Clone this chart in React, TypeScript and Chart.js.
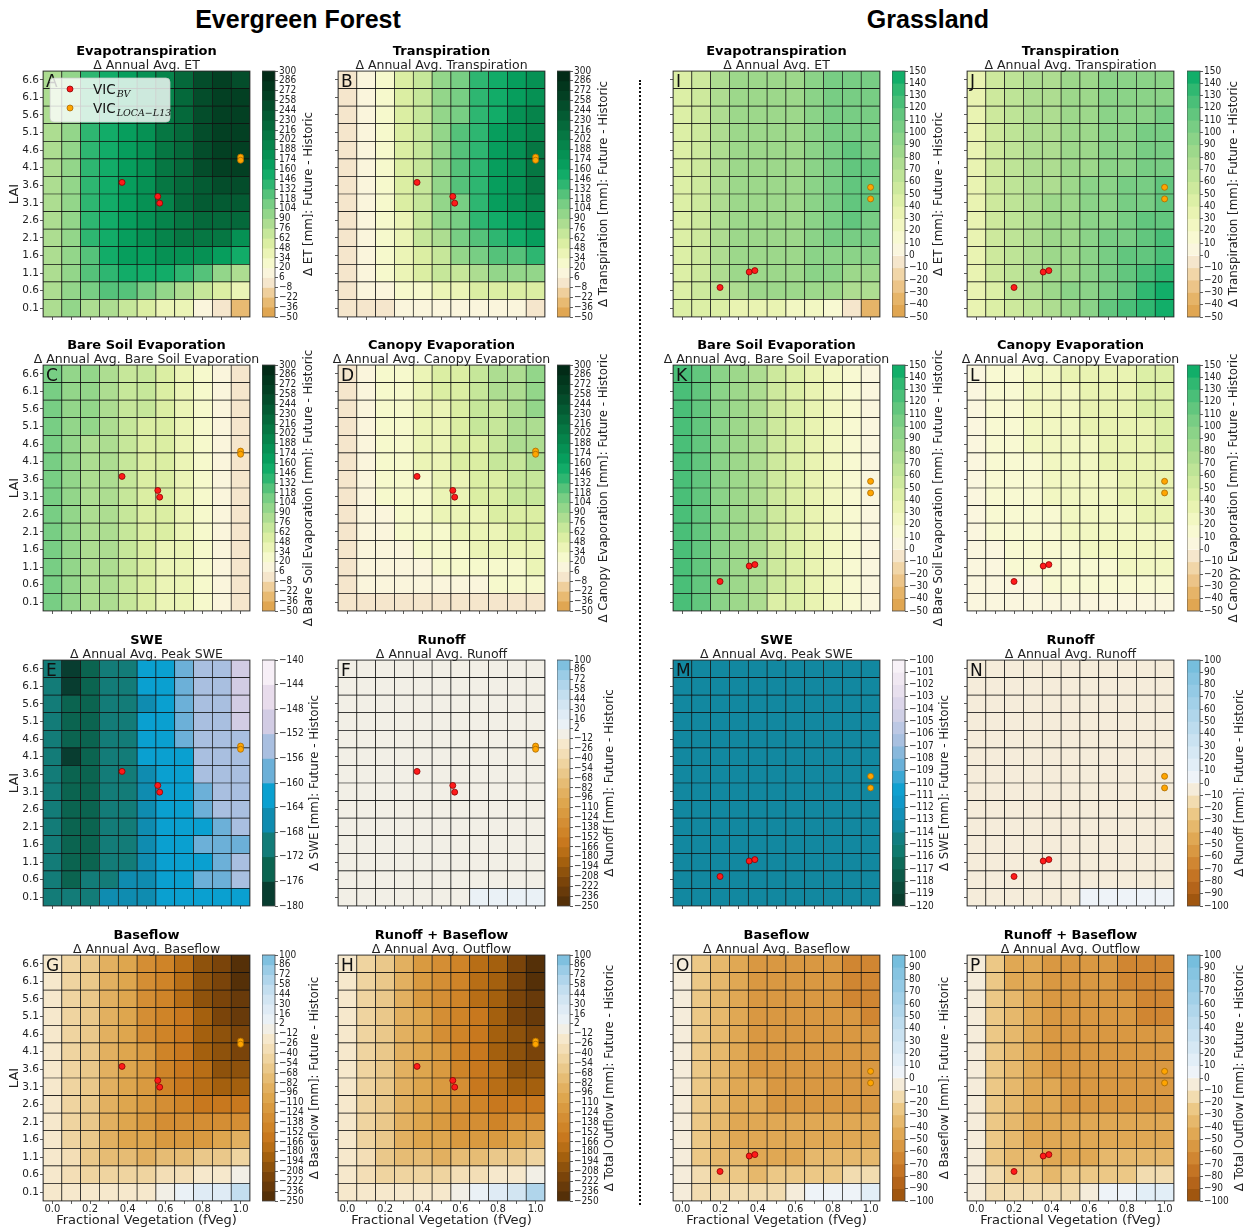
import React, { useEffect, useRef } from 'react';
import { Chart, registerables } from 'chart.js';

Chart.register(...registerables);
Chart.defaults.font.family = "'DejaVu Sans', sans-serif";
Chart.defaults.color = '#222';

// ---------- axes ----------
const FVEG = [0.0, 0.1, 0.2, 0.3, 0.4, 0.5, 0.6, 0.7, 0.8, 0.9, 1.0];
const LAI = [6.6, 6.1, 5.6, 5.1, 4.6, 4.1, 3.6, 3.1, 2.6, 2.1, 1.6, 1.1, 0.6, 0.1];

// ---------- colorbar tick levels ----------
const EF_GREEN_TICKS = [-50, -36, -22, -8, 6, 20, 34, 48, 62, 76, 90, 104, 118, 132, 146, 160, 174, 188, 202, 216, 230, 244, 258, 272, 286, 300];
const EF_FLOW_TICKS = [-250, -236, -222, -208, -194, -180, -166, -152, -138, -124, -110, -96, -82, -68, -54, -40, -26, -12, 2, 16, 30, 44, 58, 72, 86, 100];
const EF_SWE_TICKS = [-180, -176, -172, -168, -164, -160, -156, -152, -148, -144, -140];
const GR_GREEN_TICKS = [-50, -40, -30, -20, -10, 0, 10, 20, 30, 40, 50, 60, 70, 80, 90, 100, 110, 120, 130, 140, 150];
const GR_FLOW_TICKS = [-100, -90, -80, -70, -60, -50, -40, -30, -20, -10, 0, 10, 20, 30, 40, 50, 60, 70, 80, 90, 100];
const GR_SWE_TICKS = [-120, -119, -118, -117, -116, -115, -114, -113, -112, -111, -110, -109, -108, -107, -106, -105, -104, -103, -102, -101, -100];

// ---------- colorbar bin colours ----------
const EF_GREEN_COLORS = ['#e0a652', '#e8ba72', '#efcf9c', '#f5e6cc', '#faf5dc', '#f6f9cc', '#ebf4b6', '#dbeea3', '#c6e79a', '#addd91', '#93d68a', '#78ce84', '#55c27a', '#2eb671', '#12ac68', '#079e5d', '#069154', '#06844b', '#067743', '#05693b', '#045b33', '#044d2b', '#034023', '#02361d', '#022b17'];
const GR_GREEN_COLORS = ['#e0a652', '#e6b468', '#ecc488', '#f1d6a8', '#f5e6cc', '#faf6de', '#f8f9d2', '#f2f7c2', '#e9f3b2', '#dcefa6', '#cde99d', '#bee497', '#aedd91', '#9dd88b', '#8bd388', '#78cd84', '#62c67e', '#4abf78', '#30b871', '#12ae69'];
const EF_FLOW_COLORS = ['#553008', '#683a0a', '#7a440a', '#8e520c', '#a4600e', '#b86e16', '#c8781e', '#cf8428', '#d48e34', '#d99a40', '#dea64e', '#e2b060', '#e6bc74', '#eac88a', '#efd4a0', '#f3deb6', '#f6e8cc', '#f2efe6', '#eaf1f6', '#dfebf5', '#d2e5f2', '#c3deef', '#b0d5eb', '#9bcce6', '#7fc0df'];
const GR_FLOW_COLORS = ['#a0560f', '#b4641a', '#c47424', '#d08632', '#d99842', '#e0a854', '#e6b86c', '#ecc886', '#f2dcb0', '#f5ecda', '#eef3f8', '#e2eef7', '#d6e8f4', '#cae2f1', '#bddcee', '#b0d6eb', '#a2d0e8', '#94cae5', '#86c4e1', '#76bedd'];
const EF_SWE_COLORS = ['#083d30', '#0b6450', '#137c78', '#0f8cb0', '#0aa0d0', '#6cb0d8', '#a9bfe0', '#d2cce4', '#e8dcec', '#f7eff7'];
const GR_SWE_COLORS = ['#0a3d2e', '#0b4a3a', '#0c5a48', '#0e6a58', '#107a6e', '#127e80', '#1288a0', '#1290b8', '#1098c8', '#10a0d0', '#3ca8d4', '#6ab0d8', '#88b8dc', '#a8c0e0', '#bcc8e4', '#d0d0e6', '#dcd6ea', '#e8e0ee', '#f0e8f2', '#f8f2f8'];

// ---------- site points ----------
const EF_BV_FVEG = [0.37, 0.56, 0.57];
const EF_BV_LAI = [3.68, 3.28, 3.09];
const EF_LOCA_FVEG = [1.0, 1.0];
const EF_LOCA_LAI = [4.4, 4.31];
const GR_BV_FVEG = [0.2, 0.355, 0.385];
const GR_BV_LAI = [0.69, 1.13, 1.17];
const GR_LOCA_FVEG = [1.0, 1.0];
const GR_LOCA_LAI = [3.54, 3.21];

// ---------- Evergreen forest grids (rows: LAI 6.6 -> 0.1, cols: fVeg 0.0 -> 1.0) ----------
const efET = [
  [85, 100, 140, 152, 168, 184, 200, 222, 246, 262, 256],
  [85, 100, 140, 152, 168, 184, 200, 224, 250, 266, 262],
  [85, 101, 140, 153, 169, 185, 202, 226, 252, 264, 262],
  [85, 101, 140, 153, 169, 186, 204, 226, 250, 262, 260],
  [84, 101, 140, 153, 170, 186, 204, 226, 248, 260, 258],
  [84, 101, 140, 153, 170, 186, 204, 225, 246, 258, 262],
  [84, 101, 139, 153, 170, 186, 203, 222, 240, 250, 248],
  [84, 100, 138, 152, 168, 185, 200, 218, 234, 242, 240],
  [84, 100, 137, 151, 167, 184, 199, 212, 224, 226, 218],
  [84, 100, 135, 150, 165, 180, 194, 206, 210, 204, 184],
  [84, 100, 128, 150, 165, 172, 180, 182, 178, 168, 150],
  [84, 100, 125, 136, 150, 152, 150, 138, 120, 100, 88],
  [84, 100, 110, 118, 120, 108, 98, 85, 70, 55, 40],
  [84, 92, 88, 78, 68, 58, 45, 35, 15, 0, -30],
];
const efTR = [
  [0, 14, 30, 48, 70, 92, 112, 132, 150, 165, 175],
  [0, 14, 30, 50, 72, 94, 115, 136, 155, 172, 185],
  [0, 14, 30, 50, 72, 95, 117, 138, 158, 176, 192],
  [0, 14, 30, 50, 73, 96, 118, 140, 160, 180, 198],
  [0, 14, 30, 50, 73, 96, 119, 142, 163, 184, 205],
  [0, 14, 30, 50, 73, 96, 119, 142, 164, 186, 208],
  [0, 14, 30, 50, 72, 95, 118, 141, 163, 185, 205],
  [0, 14, 29, 49, 71, 93, 116, 138, 160, 180, 198],
  [0, 13, 28, 47, 68, 90, 111, 132, 152, 170, 185],
  [0, 13, 27, 45, 64, 84, 104, 122, 140, 155, 166],
  [0, 12, 25, 41, 58, 75, 92, 107, 120, 130, 136],
  [0, 11, 22, 35, 48, 62, 74, 84, 92, 97, 100],
  [0, 8, 16, 24, 32, 40, 46, 51, 54, 56, 56],
  [0, 2, 4, 6, 7, 8, 8, 8, 7, 6, 5],
];
const efBS = [
  [106, 98, 90, 82, 72, 62, 52, 42, 30, 14, 0],
  [106, 98, 90, 82, 72, 62, 52, 42, 30, 14, 0],
  [106, 98, 90, 81, 72, 62, 52, 42, 30, 14, 0],
  [106, 98, 90, 81, 71, 61, 51, 41, 29, 14, 0],
  [106, 98, 89, 81, 71, 61, 51, 41, 29, 13, 0],
  [106, 97, 89, 80, 70, 60, 50, 40, 28, 13, 0],
  [106, 97, 89, 80, 70, 60, 50, 40, 28, 13, 0],
  [106, 97, 88, 79, 69, 59, 49, 39, 27, 12, 0],
  [106, 97, 88, 79, 69, 59, 49, 38, 27, 12, 0],
  [106, 97, 88, 78, 68, 58, 48, 38, 26, 12, 0],
  [106, 96, 87, 78, 68, 58, 47, 37, 26, 11, 0],
  [106, 96, 87, 77, 67, 57, 47, 36, 25, 11, 0],
  [106, 96, 86, 77, 66, 56, 46, 36, 24, 10, 0],
  [106, 95, 86, 76, 66, 55, 45, 35, 23, 10, 0],
];
const efCE = [
  [0, 18, 25, 32, 40, 48, 58, 68, 78, 88, 98],
  [0, 18, 25, 32, 40, 48, 57, 67, 76, 86, 95],
  [0, 17, 24, 31, 39, 47, 56, 65, 74, 83, 90],
  [0, 17, 24, 30, 38, 46, 54, 63, 72, 80, 86],
  [0, 16, 23, 29, 37, 44, 52, 60, 68, 76, 82],
  [0, 16, 22, 28, 35, 42, 50, 58, 65, 72, 78],
  [0, 15, 21, 27, 33, 40, 47, 54, 61, 67, 72],
  [0, 14, 20, 25, 31, 37, 44, 50, 56, 62, 66],
  [0, 13, 18, 23, 29, 34, 40, 46, 51, 56, 60],
  [0, 12, 16, 21, 26, 31, 36, 41, 45, 49, 52],
  [0, 10, 14, 18, 22, 27, 31, 35, 38, 41, 44],
  [0, 9, 12, 15, 18, 22, 25, 28, 30, 32, 34],
  [0, 7, 9, 11, 13, 15, 17, 19, 20, 21, 22],
  [0, 2, 3, 3, 4, 4, 5, 5, 5, 5, 5],
];
const efSWE = [
  [-170, -178, -174, -170, -170, -162, -162, -158, -154, -154, -150],
  [-170, -178, -174, -170, -170, -162, -162, -158, -154, -154, -150],
  [-170, -174, -174, -170, -170, -166, -162, -158, -154, -154, -150],
  [-170, -174, -174, -170, -170, -162, -162, -158, -154, -154, -150],
  [-170, -174, -174, -170, -170, -162, -162, -158, -154, -154, -154],
  [-170, -178, -174, -170, -170, -162, -162, -162, -154, -154, -154],
  [-170, -174, -174, -170, -170, -166, -162, -162, -154, -154, -154],
  [-170, -174, -174, -170, -170, -166, -162, -162, -158, -154, -154],
  [-170, -174, -174, -170, -170, -166, -162, -162, -158, -154, -154],
  [-170, -174, -174, -170, -170, -166, -162, -162, -162, -158, -154],
  [-170, -174, -174, -170, -170, -166, -162, -162, -158, -158, -158],
  [-170, -174, -174, -170, -170, -166, -162, -162, -162, -158, -154],
  [-170, -174, -170, -170, -166, -166, -162, -162, -158, -158, -154],
  [-170, -170, -170, -166, -166, -166, -162, -162, -162, -162, -162],
];
const efRO = [
  [-4, -5, -5, -5, -5, -5, -5, -5, -5, -5, -5],
  [-4, -5, -5, -5, -5, -5, -5, -5, -5, -5, -5],
  [-4, -5, -5, -5, -5, -5, -5, -5, -5, -5, -5],
  [-4, -5, -5, -5, -5, -5, -5, -5, -5, -5, -5],
  [-4, -5, -5, -5, -5, -5, -5, -5, -5, -5, -5],
  [-4, -5, -5, -5, -5, -5, -5, -5, -5, -5, -5],
  [-4, -5, -5, -5, -5, -5, -5, -5, -5, -5, -5],
  [-4, -5, -5, -5, -5, -5, -5, -5, -5, -5, -5],
  [-4, -5, -5, -5, -5, -5, -5, -5, -5, -5, -5],
  [-4, -5, -5, -5, -5, -5, -5, -5, -5, -5, -5],
  [-4, -5, -5, -5, -5, -5, -5, -5, -5, -5, -5],
  [-4, -5, -5, -5, -5, -5, -5, -5, -5, -5, -5],
  [-4, -4, -4, -4, -4, -4, -4, -3, -2, -2, -1],
  [-3, -3, -3, -3, -2, -2, -1, 6, 8, 9, 11],
];
const efBF = [
  [-20, -45, -65, -92, -108, -128, -146, -170, -198, -218, -242],
  [-20, -45, -65, -92, -108, -128, -146, -168, -196, -216, -240],
  [-20, -45, -65, -92, -108, -128, -146, -168, -195, -214, -236],
  [-20, -45, -65, -91, -108, -127, -145, -166, -192, -212, -228],
  [-20, -45, -65, -91, -108, -126, -144, -164, -188, -208, -220],
  [-20, -45, -65, -90, -107, -124, -142, -162, -184, -202, -212],
  [-20, -45, -65, -90, -106, -122, -140, -158, -178, -195, -205],
  [-20, -45, -65, -90, -106, -122, -140, -155, -172, -185, -190],
  [-20, -45, -65, -90, -106, -120, -135, -148, -158, -165, -160],
  [-20, -45, -65, -90, -104, -115, -128, -135, -138, -135, -128],
  [-20, -45, -62, -88, -100, -104, -115, -118, -115, -105, -90],
  [-20, -40, -55, -70, -78, -85, -82, -74, -64, -56, -45],
  [-20, -33, -45, -48, -48, -45, -38, -32, -24, -18, -5],
  [-20, -22, -24, -22, -20, -16, -5, 8, 20, 25, 45],
];
const efOF = [
  [-20, -45, -62, -90, -112, -128, -148, -172, -192, -215, -242],
  [-20, -45, -62, -90, -112, -128, -147, -170, -192, -214, -240],
  [-20, -45, -62, -90, -111, -127, -146, -168, -190, -212, -236],
  [-20, -45, -62, -90, -110, -126, -145, -166, -188, -210, -228],
  [-20, -45, -62, -89, -109, -125, -143, -164, -186, -206, -220],
  [-20, -45, -62, -89, -108, -124, -142, -162, -182, -202, -212],
  [-20, -45, -62, -88, -106, -122, -140, -158, -178, -196, -206],
  [-20, -45, -62, -88, -105, -120, -138, -154, -172, -186, -192],
  [-20, -45, -62, -88, -104, -118, -134, -148, -160, -166, -162],
  [-20, -45, -62, -87, -102, -114, -126, -135, -140, -136, -128],
  [-20, -45, -60, -85, -98, -104, -112, -116, -114, -106, -92],
  [-20, -40, -55, -70, -78, -84, -82, -75, -65, -56, -45],
  [-20, -33, -45, -48, -48, -45, -38, -32, -24, -16, -5],
  [-20, -22, -22, -20, -18, -15, -5, 10, 20, 30, 62],
];

// ---------- Grassland grids ----------
const grET = [
  [45, 58, 70, 80, 82, 84, 86, 98, 104, 106, 100],
  [45, 58, 70, 80, 82, 84, 86, 98, 104, 106, 102],
  [44, 58, 70, 80, 82, 85, 87, 98, 104, 106, 104],
  [44, 58, 70, 80, 83, 85, 88, 98, 104, 108, 106],
  [44, 58, 70, 80, 83, 86, 88, 98, 105, 110, 108],
  [44, 58, 70, 80, 83, 86, 88, 98, 106, 112, 110],
  [44, 58, 70, 80, 84, 86, 88, 98, 106, 114, 114],
  [44, 58, 70, 80, 84, 86, 88, 98, 106, 114, 112],
  [44, 58, 70, 80, 84, 86, 88, 96, 104, 110, 108],
  [44, 58, 70, 80, 84, 86, 88, 94, 100, 104, 102],
  [44, 58, 70, 80, 84, 86, 88, 92, 96, 98, 95],
  [44, 58, 70, 80, 84, 86, 88, 90, 90, 88, 84],
  [44, 57, 68, 78, 82, 84, 84, 84, 82, 78, 72],
  [44, 42, 40, 36, 34, 31, 26, 22, 12, -5, -32],
];
const grTR = [
  [35, 50, 62, 72, 78, 82, 86, 90, 94, 96, 98],
  [35, 50, 62, 72, 78, 82, 86, 90, 94, 97, 99],
  [35, 50, 62, 72, 78, 83, 87, 91, 95, 98, 100],
  [35, 50, 62, 72, 78, 83, 87, 92, 96, 100, 102],
  [35, 50, 62, 72, 79, 84, 88, 93, 98, 102, 105],
  [35, 50, 62, 72, 79, 84, 89, 94, 99, 104, 108],
  [35, 50, 62, 72, 79, 85, 90, 95, 101, 106, 111],
  [35, 50, 62, 72, 80, 86, 91, 97, 103, 109, 114],
  [35, 50, 62, 73, 80, 86, 92, 98, 105, 112, 118],
  [35, 50, 62, 73, 81, 87, 93, 100, 108, 115, 122],
  [35, 50, 62, 73, 81, 88, 95, 103, 111, 119, 127],
  [35, 50, 62, 73, 82, 89, 97, 106, 115, 124, 133],
  [34, 49, 61, 73, 82, 90, 99, 109, 119, 130, 140],
  [30, 44, 56, 68, 78, 88, 98, 110, 122, 134, 145],
];
const grBS = [
  [125, 112, 96, 86, 76, 52, 45, 36, 26, 16, 8],
  [125, 112, 96, 86, 76, 52, 45, 36, 26, 16, 8],
  [125, 112, 96, 86, 76, 52, 45, 36, 26, 16, 8],
  [125, 112, 96, 86, 75, 52, 45, 36, 26, 16, 8],
  [125, 112, 96, 86, 75, 52, 44, 36, 26, 16, 8],
  [125, 112, 96, 86, 75, 52, 44, 36, 26, 16, 8],
  [125, 112, 96, 85, 75, 51, 44, 35, 25, 15, 8],
  [125, 112, 96, 85, 75, 51, 44, 35, 25, 15, 8],
  [125, 112, 95, 85, 74, 51, 44, 35, 25, 15, 8],
  [125, 112, 95, 85, 74, 51, 43, 35, 25, 15, 7],
  [125, 112, 95, 84, 74, 50, 43, 34, 24, 15, 7],
  [125, 111, 95, 84, 73, 50, 43, 34, 24, 14, 7],
  [124, 111, 94, 84, 73, 50, 42, 34, 24, 14, 6],
  [124, 110, 94, 83, 72, 49, 42, 33, 23, 14, 6],
];
const grCE = [
  [8, 14, 18, 22, 26, 30, 33, 36, 39, 42, 45],
  [8, 14, 18, 22, 26, 29, 32, 35, 38, 41, 44],
  [8, 13, 17, 21, 25, 28, 31, 34, 37, 40, 43],
  [7, 13, 17, 21, 24, 27, 30, 33, 36, 39, 41],
  [7, 13, 16, 20, 23, 26, 29, 32, 35, 37, 40],
  [7, 12, 16, 19, 22, 25, 28, 31, 33, 36, 38],
  [7, 12, 15, 18, 21, 24, 27, 29, 32, 34, 36],
  [6, 11, 14, 17, 20, 23, 25, 28, 30, 32, 34],
  [6, 11, 14, 16, 19, 21, 24, 26, 28, 30, 32],
  [6, 10, 13, 15, 18, 20, 22, 24, 26, 28, 29],
  [5, 9, 12, 14, 16, 18, 20, 22, 23, 25, 26],
  [5, 8, 10, 12, 14, 16, 17, 19, 20, 21, 22],
  [4, 6, 8, 9, 11, 12, 13, 14, 15, 16, 16],
  [2, 3, 4, 5, 5, 6, 6, 7, 7, 7, 8],
];
const grSWE = [
  [-113.5, -113.5, -113.5, -113.5, -113.5, -113.5, -113.5, -113.5, -113.5, -113.5, -113.5],
  [-113.5, -113.5, -113.5, -113.5, -113.5, -113.5, -113.5, -113.5, -113.5, -113.5, -113.5],
  [-113.5, -113.5, -113.5, -113.5, -113.5, -113.5, -113.5, -113.5, -113.5, -113.5, -113.5],
  [-113.5, -113.5, -113.5, -113.5, -113.5, -113.5, -113.5, -113.5, -113.5, -113.5, -113.5],
  [-113.5, -113.5, -113.5, -113.5, -113.5, -113.5, -113.5, -113.5, -113.5, -113.5, -113.5],
  [-113.5, -113.5, -113.5, -113.5, -113.5, -113.5, -113.5, -113.5, -113.5, -113.5, -113.5],
  [-113.5, -113.5, -113.5, -113.5, -113.5, -113.5, -113.5, -113.5, -113.5, -113.5, -113.5],
  [-113.5, -113.5, -113.5, -113.5, -113.5, -113.5, -113.5, -113.5, -113.5, -113.5, -113.5],
  [-113.5, -113.5, -113.5, -113.5, -113.5, -113.5, -113.5, -113.5, -113.5, -113.5, -113.5],
  [-113.5, -113.5, -113.5, -113.5, -113.5, -113.5, -113.5, -113.5, -113.5, -113.5, -113.5],
  [-113.5, -113.5, -113.5, -113.5, -113.5, -113.5, -113.5, -113.5, -113.5, -113.5, -113.5],
  [-113.5, -113.5, -113.5, -113.5, -113.5, -113.5, -113.5, -113.5, -113.5, -113.5, -113.5],
  [-113.5, -113.5, -113.5, -113.5, -113.5, -113.5, -113.5, -113.5, -113.5, -113.5, -113.5],
  [-113.5, -113.5, -113.5, -113.5, -113.5, -113.5, -113.5, -113.5, -113.5, -113.5, -113.5],
];
const grRO = [
  [-4, -4, -4, -4, -4, -4, -4, -4, -4, -4, -4],
  [-4, -4, -4, -4, -4, -4, -4, -4, -4, -4, -4],
  [-4, -4, -4, -4, -4, -4, -4, -4, -4, -4, -4],
  [-4, -4, -4, -4, -4, -4, -4, -4, -4, -4, -4],
  [-4, -4, -4, -4, -4, -4, -4, -4, -4, -4, -4],
  [-4, -4, -4, -4, -4, -4, -4, -4, -4, -4, -4],
  [-4, -4, -4, -4, -4, -4, -4, -4, -4, -4, -4],
  [-4, -4, -4, -4, -4, -4, -4, -4, -4, -4, -4],
  [-4, -4, -4, -4, -4, -4, -4, -4, -4, -4, -4],
  [-4, -4, -4, -4, -4, -4, -4, -4, -4, -4, -4],
  [-4, -4, -4, -4, -4, -4, -4, -4, -4, -4, -4],
  [-4, -4, -4, -4, -4, -4, -4, -4, -4, -4, -4],
  [-4, -4, -4, -4, -4, -4, -4, -3, -3, -3, -3],
  [-3, -3, -3, -3, -3, -2, 4, 5, 5, 6, 6],
];
const grBF = [
  [-8, -28, -40, -48, -52, -55, -57, -58, -60, -62, -62],
  [-8, -28, -40, -48, -52, -55, -57, -58, -60, -62, -62],
  [-8, -28, -40, -48, -52, -55, -57, -58, -60, -61, -62],
  [-8, -28, -40, -48, -52, -55, -56, -58, -59, -60, -61],
  [-8, -28, -40, -47, -52, -54, -56, -57, -58, -59, -60],
  [-8, -28, -40, -47, -51, -54, -55, -56, -57, -58, -58],
  [-8, -28, -39, -47, -51, -53, -55, -55, -56, -56, -56],
  [-8, -27, -39, -46, -50, -52, -54, -54, -54, -54, -54],
  [-8, -27, -38, -45, -49, -51, -52, -52, -52, -52, -51],
  [-8, -27, -38, -44, -48, -49, -50, -50, -49, -48, -47],
  [-8, -26, -37, -43, -46, -47, -47, -46, -45, -44, -42],
  [-8, -25, -35, -40, -42, -42, -41, -40, -38, -36, -34],
  [-8, -20, -27, -30, -31, -30, -28, -26, -23, -20, -16],
  [-8, -12, -14, -14, -13, -11, -8, 4, 6, 8, 12],
];
const grOF = [
  [-8, -28, -41, -48, -53, -56, -58, -59, -61, -63, -64],
  [-8, -28, -41, -48, -53, -56, -58, -59, -61, -63, -63],
  [-8, -28, -40, -48, -52, -55, -57, -59, -60, -62, -62],
  [-8, -28, -40, -48, -52, -55, -57, -58, -59, -61, -61],
  [-8, -28, -40, -47, -52, -55, -56, -57, -58, -59, -60],
  [-8, -28, -40, -47, -51, -54, -55, -56, -57, -58, -58],
  [-8, -28, -39, -47, -51, -53, -55, -55, -56, -56, -56],
  [-8, -27, -39, -46, -50, -52, -54, -54, -54, -54, -54],
  [-8, -27, -38, -45, -49, -51, -52, -52, -52, -52, -51],
  [-8, -27, -38, -44, -48, -49, -50, -50, -49, -48, -47],
  [-8, -26, -37, -43, -46, -47, -47, -46, -45, -44, -42],
  [-8, -25, -35, -40, -42, -42, -41, -40, -38, -36, -34],
  [-8, -20, -27, -30, -31, -30, -28, -26, -23, -20, -16],
  [-8, -12, -14, -14, -13, -11, -6, 6, 8, 10, 14],
];

// ---------- layout ----------
const COL_LEFT = [43, 338, 673, 967];
const CB_LEFT = [262, 557, 892, 1187];
const ROW_TOP = [71, 365, 660, 955];
const PLOT_W = 207;
const PLOT_H = 246;
const CB_W = 13;
const Y_AXIS_W = 42;
const X_AXIS_H = 30;
const PAD_TOP = 40;
const PAD_RIGHT = 10;
const HM_W = Y_AXIS_W + PLOT_W + PAD_RIGHT;
const HM_H = PAD_TOP + PLOT_H + X_AXIS_H;
const CB_AXIS_W = 62;
const CB_PAD = 36;
const CB_TICK_FAMILY = "'DejaVu Sans Condensed', 'DejaVu Sans', sans-serif";
const CB_TICK_SIZE = 10;

type PanelDef = {
  letter: string; title: string; subtitle: string; grid: number[][];
  ticks: number[]; colors: string[]; cbLabel: string; col: number; row: number; forest: boolean;
};

const PANELS: PanelDef[] = [
  { letter: 'A', title: 'Evapotranspiration', subtitle: 'Δ Annual Avg. ET', grid: efET, ticks: EF_GREEN_TICKS, colors: EF_GREEN_COLORS, cbLabel: 'Δ ET [mm]: Future - Historic', col: 0, row: 0, forest: true },
  { letter: 'B', title: 'Transpiration', subtitle: 'Δ Annual Avg. Transpiration', grid: efTR, ticks: EF_GREEN_TICKS, colors: EF_GREEN_COLORS, cbLabel: 'Δ Transpiration [mm]: Future - Historic', col: 1, row: 0, forest: true },
  { letter: 'C', title: 'Bare Soil Evaporation', subtitle: 'Δ Annual Avg. Bare Soil Evaporation', grid: efBS, ticks: EF_GREEN_TICKS, colors: EF_GREEN_COLORS, cbLabel: 'Δ Bare Soil Evaporation [mm]: Future - Historic', col: 0, row: 1, forest: true },
  { letter: 'D', title: 'Canopy Evaporation', subtitle: 'Δ Annual Avg. Canopy Evaporation', grid: efCE, ticks: EF_GREEN_TICKS, colors: EF_GREEN_COLORS, cbLabel: 'Δ Canopy Evaporation [mm]: Future - Historic', col: 1, row: 1, forest: true },
  { letter: 'E', title: 'SWE', subtitle: 'Δ Annual Avg. Peak SWE', grid: efSWE, ticks: EF_SWE_TICKS, colors: EF_SWE_COLORS, cbLabel: 'Δ SWE [mm]: Future - Historic', col: 0, row: 2, forest: true },
  { letter: 'F', title: 'Runoff', subtitle: 'Δ Annual Avg. Runoff', grid: efRO, ticks: EF_FLOW_TICKS, colors: EF_FLOW_COLORS, cbLabel: 'Δ Runoff [mm]: Future - Historic', col: 1, row: 2, forest: true },
  { letter: 'G', title: 'Baseflow', subtitle: 'Δ Annual Avg. Baseflow', grid: efBF, ticks: EF_FLOW_TICKS, colors: EF_FLOW_COLORS, cbLabel: 'Δ Baseflow [mm]: Future - Historic', col: 0, row: 3, forest: true },
  { letter: 'H', title: 'Runoff + Baseflow', subtitle: 'Δ Annual Avg. Outflow', grid: efOF, ticks: EF_FLOW_TICKS, colors: EF_FLOW_COLORS, cbLabel: 'Δ Total Outflow [mm]: Future - Historic', col: 1, row: 3, forest: true },
  { letter: 'I', title: 'Evapotranspiration', subtitle: 'Δ Annual Avg. ET', grid: grET, ticks: GR_GREEN_TICKS, colors: GR_GREEN_COLORS, cbLabel: 'Δ ET [mm]: Future - Historic', col: 2, row: 0, forest: false },
  { letter: 'J', title: 'Transpiration', subtitle: 'Δ Annual Avg. Transpiration', grid: grTR, ticks: GR_GREEN_TICKS, colors: GR_GREEN_COLORS, cbLabel: 'Δ Transpiration [mm]: Future - Historic', col: 3, row: 0, forest: false },
  { letter: 'K', title: 'Bare Soil Evaporation', subtitle: 'Δ Annual Avg. Bare Soil Evaporation', grid: grBS, ticks: GR_GREEN_TICKS, colors: GR_GREEN_COLORS, cbLabel: 'Δ Bare Soil Evaporation [mm]: Future - Historic', col: 2, row: 1, forest: false },
  { letter: 'L', title: 'Canopy Evaporation', subtitle: 'Δ Annual Avg. Canopy Evaporation', grid: grCE, ticks: GR_GREEN_TICKS, colors: GR_GREEN_COLORS, cbLabel: 'Δ Canopy Evaporation [mm]: Future - Historic', col: 3, row: 1, forest: false },
  { letter: 'M', title: 'SWE', subtitle: 'Δ Annual Avg. Peak SWE', grid: grSWE, ticks: GR_SWE_TICKS, colors: GR_SWE_COLORS, cbLabel: 'Δ SWE [mm]: Future - Historic', col: 2, row: 2, forest: false },
  { letter: 'N', title: 'Runoff', subtitle: 'Δ Annual Avg. Runoff', grid: grRO, ticks: GR_FLOW_TICKS, colors: GR_FLOW_COLORS, cbLabel: 'Δ Runoff [mm]: Future - Historic', col: 3, row: 2, forest: false },
  { letter: 'O', title: 'Baseflow', subtitle: 'Δ Annual Avg. Baseflow', grid: grBF, ticks: GR_FLOW_TICKS, colors: GR_FLOW_COLORS, cbLabel: 'Δ Baseflow [mm]: Future - Historic', col: 2, row: 3, forest: false },
  { letter: 'P', title: 'Runoff + Baseflow', subtitle: 'Δ Annual Avg. Outflow', grid: grOF, ticks: GR_FLOW_TICKS, colors: GR_FLOW_COLORS, cbLabel: 'Δ Total Outflow [mm]: Future - Historic', col: 3, row: 3, forest: false },
];

function binColor(ticks: number[], colors: string[], v: number) {
  let i = 0;
  while (i < colors.length - 1 && v >= ticks[i + 1]) i++;
  return colors[i];
}
const fmtNum = (v: number) => (v < 0 ? '\u2212' + Math.abs(v) : String(v));

const BV_FILL = '#ff1a1a';
const BV_EDGE = '#8b0000';
const LOCA_FILL = '#ffa500';
const LOCA_EDGE = '#a86a00';

function drawDot(ctx: CanvasRenderingContext2D, x: number, y: number, fill: string, edge: string) {
  ctx.beginPath();
  ctx.arc(x, y, 3, 0, Math.PI * 2);
  ctx.fillStyle = fill;
  ctx.fill();
  ctx.lineWidth = 0.8;
  ctx.strokeStyle = edge;
  ctx.stroke();
}

function Panel({ p }: { p: PanelDef }) {
  const hmRef = useRef<HTMLCanvasElement | null>(null);
  const cbRef = useRef<HTMLCanvasElement | null>(null);

  useEffect(() => {
    const isLeft = p.col === 0;
    const isBottom = p.row === 3;
    const cells: { x: number; y: [number, number] }[] = [];
    const cellColors: string[] = [];
    p.grid.forEach((rowVals, r) => {
      rowVals.forEach((v, c) => {
        cells.push({ x: FVEG[c], y: [LAI[r] - 0.25, LAI[r] + 0.25] });
        cellColors.push(binColor(p.ticks, p.colors, v));
      });
    });
    const bvF = p.forest ? EF_BV_FVEG : GR_BV_FVEG;
    const bvL = p.forest ? EF_BV_LAI : GR_BV_LAI;
    const lcF = p.forest ? EF_LOCA_FVEG : GR_LOCA_FVEG;
    const lcL = p.forest ? EF_LOCA_LAI : GR_LOCA_LAI;
    const bvPts = bvF.map((x, i) => ({ x, y: bvL[i] }));
    const lcPts = lcF.map((x, i) => ({ x, y: lcL[i] }));

    const decor = {
      id: 'decor' + p.letter,
      afterDraw(chart: any) {
        const { ctx, chartArea: a } = chart;
        ctx.save();
        ctx.strokeStyle = '#333';
        ctx.lineWidth = 0.8;
        ctx.strokeRect(a.left, a.top, a.right - a.left, a.bottom - a.top);
        const cx = (a.left + a.right) / 2;
        ctx.textAlign = 'center';
        ctx.textBaseline = 'alphabetic';
        ctx.fillStyle = '#000';
        ctx.font = "bold 13px 'DejaVu Sans'";
        ctx.fillText(p.title, cx, a.top - 16);
        ctx.fillStyle = '#222';
        ctx.font = "12.5px 'DejaVu Sans'";
        ctx.fillText(p.subtitle, cx, a.top - 2.5);
        ctx.textAlign = 'left';
        ctx.fillStyle = '#111';
        ctx.font = "17px 'DejaVu Sans'";
        ctx.fillText(p.letter, a.left + 3, a.top + 16);
        if (p.letter === 'A') {
          const bx = a.left + 7, by = a.top + 7, bw = 120, bh = 44, rr = 4;
          ctx.beginPath();
          ctx.moveTo(bx + rr, by);
          ctx.arcTo(bx + bw, by, bx + bw, by + bh, rr);
          ctx.arcTo(bx + bw, by + bh, bx, by + bh, rr);
          ctx.arcTo(bx, by + bh, bx, by, rr);
          ctx.arcTo(bx, by, bx + bw, by, rr);
          ctx.closePath();
          ctx.fillStyle = 'rgba(255,255,255,0.8)';
          ctx.fill();
          ctx.strokeStyle = 'rgba(200,200,200,0.9)';
          ctx.lineWidth = 0.8;
          ctx.stroke();
          drawDot(ctx, a.left + 27, a.top + 18, BV_FILL, BV_EDGE);
          drawDot(ctx, a.left + 27, a.top + 37, LOCA_FILL, LOCA_EDGE);
          ctx.fillStyle = '#111';
          ctx.font = "13.5px 'DejaVu Sans'";
          ctx.fillText('VIC', a.left + 50, a.top + 22.5);
          ctx.fillText('VIC', a.left + 50, a.top + 41.5);
          const w = ctx.measureText('VIC').width;
          ctx.font = "italic 9.5px 'DejaVu Serif'";
          ctx.fillText('BV', a.left + 50 + w + 1, a.top + 25.5);
          ctx.fillText('LOCA\u2212L13', a.left + 50 + w + 1, a.top + 44.5);
        }
        ctx.restore();
      },
    };

    const gridOpts = { drawOnChartArea: false, drawTicks: true, tickLength: 3, tickColor: '#333', tickWidth: 0.8, offset: false };

    const heat = new Chart(hmRef.current as HTMLCanvasElement, {
      type: 'bar',
      data: {
        datasets: [
          { type: 'scatter', data: bvPts, backgroundColor: BV_FILL, borderColor: BV_EDGE, borderWidth: 0.8, pointRadius: 3, order: 0 } as any,
          { type: 'scatter', data: lcPts, backgroundColor: LOCA_FILL, borderColor: LOCA_EDGE, borderWidth: 0.8, pointRadius: 3, order: 1 } as any,
          { type: 'bar', data: cells, backgroundColor: cellColors, borderColor: '#111', borderWidth: 0.7, borderSkipped: false, barPercentage: 1, categoryPercentage: 1, order: 2 } as any,
        ],
      },
      options: {
        responsive: false,
        animation: false,
        events: [],
        layout: { padding: { top: PAD_TOP, left: 0, right: PAD_RIGHT, bottom: 0 } },
        plugins: { legend: { display: false }, tooltip: { enabled: false } },
        scales: {
          x: {
            type: 'linear', min: -0.05, max: 1.05, offset: false,
            afterBuildTicks: (s: any) => { s.ticks = FVEG.map((v) => ({ value: v })); },
            afterFit: (s: any) => { s.height = X_AXIS_H; },
            ticks: {
              display: isBottom, autoSkip: false, maxRotation: 0, padding: -1, color: '#222', font: { size: 10 },
              callback: (v: any) => (Math.round(Number(v) * 10) % 2 === 0 ? Number(v).toFixed(1) : ''),
            },
            grid: gridOpts, border: { display: false },
            title: { display: isBottom, text: 'Fractional Vegetation (fVeg)', color: '#222', font: { size: 13 }, padding: { top: 0, bottom: 2.5 } },
          },
          y: {
            type: 'linear', min: -0.15, max: 6.85,
            afterBuildTicks: (s: any) => { s.ticks = LAI.map((v) => ({ value: v })); },
            afterFit: (s: any) => { s.width = Y_AXIS_W; },
            ticks: { display: isLeft, autoSkip: false, padding: 1, color: '#222', font: { size: 10.5 }, callback: (v: any) => Number(v).toFixed(1) },
            grid: gridOpts, border: { display: false },
            title: { display: isLeft, text: 'LAI', color: '#222', font: { size: 13 }, padding: { top: 6, bottom: 0 } },
          },
        },
      } as any,
      plugins: [decor],
    });

    const bins = p.colors.map((_, i) => ({ x: 'cb', y: [p.ticks[i], p.ticks[i + 1]] }));
    const cbDecor = {
      id: 'cbdecor' + p.letter,
      afterDraw(chart: any) {
        const { ctx, chartArea: a } = chart;
        ctx.save();
        ctx.strokeStyle = '#444';
        ctx.lineWidth = 0.8;
        ctx.strokeRect(a.left, a.top, a.right - a.left, a.bottom - a.top);
        ctx.font = CB_TICK_SIZE + 'px ' + CB_TICK_FAMILY;
        let maxW = 0;
        p.ticks.forEach((t) => { maxW = Math.max(maxW, ctx.measureText(fmtNum(t)).width); });
        ctx.translate(a.right + 4 + maxW + 11, (a.top + a.bottom) / 2);
        ctx.rotate(-Math.PI / 2);
        ctx.textAlign = 'center';
        ctx.textBaseline = 'middle';
        ctx.fillStyle = '#222';
        ctx.font = "11.8px 'DejaVu Sans'";
        ctx.fillText(p.cbLabel, 0, 0);
        ctx.restore();
      },
    };
    const cb = new Chart(cbRef.current as HTMLCanvasElement, {
      type: 'bar',
      data: {
        labels: ['cb'],
        datasets: [{ data: bins, backgroundColor: p.colors, borderWidth: 0, barPercentage: 1, categoryPercentage: 1 } as any],
      },
      options: {
        responsive: false,
        animation: false,
        events: [],
        layout: { padding: { top: CB_PAD, bottom: CB_PAD, left: 0, right: 0 } },
        plugins: { legend: { display: false }, tooltip: { enabled: false } },
        scales: {
          x: { type: 'category', display: false, offset: true },
          y: {
            type: 'linear', position: 'right', min: p.ticks[0], max: p.ticks[p.ticks.length - 1],
            afterBuildTicks: (s: any) => { s.ticks = p.ticks.map((v) => ({ value: v })); },
            afterFit: (s: any) => { s.width = CB_AXIS_W; },
            ticks: { autoSkip: false, padding: 1, color: '#222', font: { size: CB_TICK_SIZE, family: CB_TICK_FAMILY }, callback: (v: any) => fmtNum(Number(v)) },
            grid: { drawOnChartArea: false, drawTicks: true, tickLength: 3, tickColor: '#333', tickWidth: 0.8 },
            border: { display: false },
          },
        },
      } as any,
      plugins: [cbDecor],
    });

    return () => { heat.destroy(); cb.destroy(); };
  }, [p]);

  const L = COL_LEFT[p.col];
  const T = ROW_TOP[p.row];
  const CBL = CB_LEFT[p.col];
  const cbW = CB_W + CB_AXIS_W;
  const cbH = PLOT_H + 2 * CB_PAD;
  return (
    <>
      <canvas ref={hmRef} width={HM_W} height={HM_H}
        style={{ position: 'absolute', left: L - Y_AXIS_W, top: T - PAD_TOP, width: HM_W, height: HM_H }} />
      <canvas ref={cbRef} width={cbW} height={cbH}
        style={{ position: 'absolute', left: CBL, top: T - CB_PAD, width: cbW, height: cbH }} />
    </>
  );
}

export default function App() {
  const header: React.CSSProperties = {
    position: 'absolute', top: 7, height: 25, lineHeight: '25px', textAlign: 'center',
    fontFamily: "'Liberation Sans', Arial, sans-serif", fontWeight: 'bold', fontSize: 25, color: '#000',
  };
  return (
    <div style={{ position: 'absolute', left: 0, top: 0, width: 1254, height: 1228, overflow: 'hidden', background: '#fff' }}>
      <div style={{ ...header, left: 0, width: 596 }}>Evergreen Forest</div>
      <div style={{ ...header, left: 728, width: 400 }}>Grassland</div>
      <div style={{ position: 'absolute', left: 639, top: 80, width: 0, height: 1125, borderLeft: '2px dotted #111' }} />
      {PANELS.map((p) => <Panel key={p.letter} p={p} />)}
    </div>
  );
}
